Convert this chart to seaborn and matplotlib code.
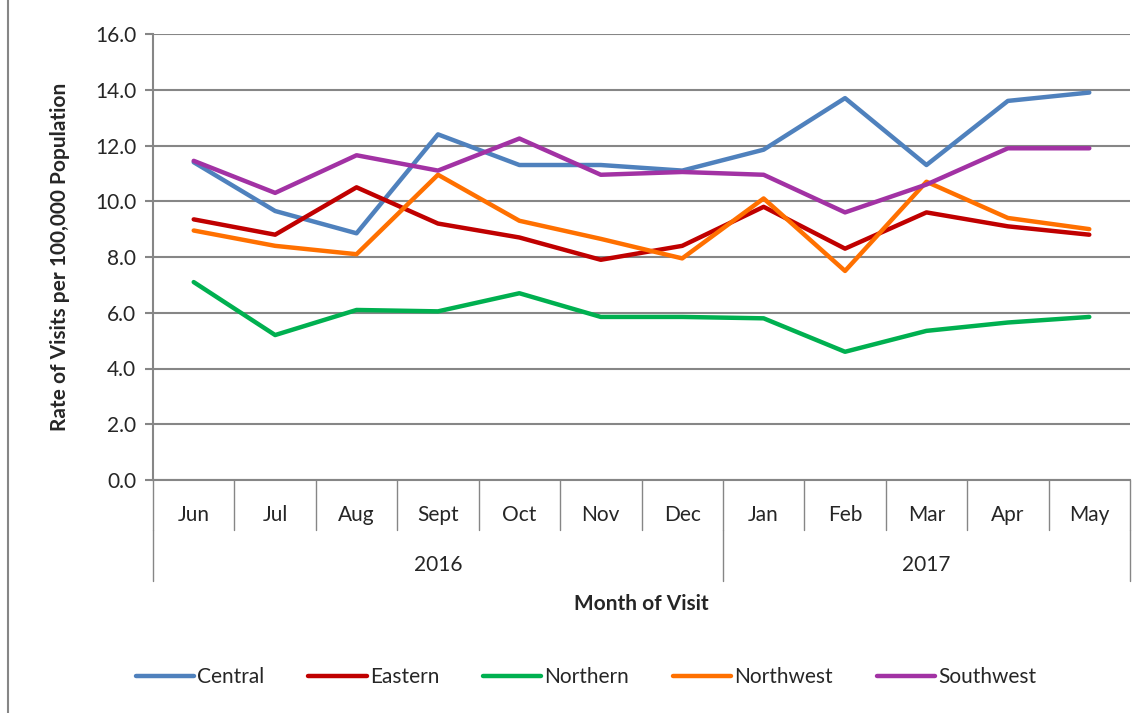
import pandas as pd
import matplotlib.pyplot as plt
import matplotlib.transforms as mtransforms
import seaborn as sns

months = ["Jun", "Jul", "Aug", "Sept", "Oct", "Nov", "Dec",
          "Jan", "Feb", "Mar", "Apr", "May"]
years = ["2016", "2017"]
year_sizes = [7, 5]

central = [11.4, 9.65, 8.85, 12.4, 11.3, 11.3, 11.1, 11.85, 13.7, 11.3, 13.6, 13.9]
eastern = [9.35, 8.8, 10.5, 9.2, 8.7, 7.9, 8.4, 9.8, 8.3, 9.6, 9.1, 8.8]
northern = [7.1, 5.2, 6.1, 6.05, 6.7, 5.85, 5.85, 5.8, 4.6, 5.35, 5.65, 5.85]
northwest = [8.95, 8.4, 8.1, 10.95, 9.3, 8.65, 7.95, 10.1, 7.5, 10.7, 9.4, 9.0]
southwest = [11.45, 10.3, 11.65, 11.1, 12.25, 10.95, 11.05, 10.95, 9.6, 10.6, 11.9, 11.9]

regions = ["Central", "Eastern", "Northern", "Northwest", "Southwest"]
colors = ["#4F81BD", "#C00000", "#00B050", "#FF7000", "#A232A4"]

rows = []
for name, vals in zip(regions, [central, eastern, northern, northwest, southwest]):
    for i, v in enumerate(vals):
        rows.append({"pos": i, "Region": name, "Rate": v})
df = pd.DataFrame(rows)

sns.set_style("white")
plt.rcParams["font.family"] = ["Lato", "DejaVu Sans"]

fig = plt.figure(figsize=(11.47, 7.13), dpi=100)
ax = fig.add_axes([153 / 1147, 1 - 480 / 713, (1130 - 153) / 1147, (480 - 34) / 713])

sns.lineplot(data=df, x="pos", y="Rate", hue="Region", hue_order=regions,
             palette=colors, linewidth=3.2, ax=ax, legend=False, sort=False)

ax.set_xlim(-0.5, len(months) - 0.5)
ax.set_ylim(0, 16)
ax.set_yticks([i * 2 for i in range(9)])
ax.set_yticklabels(["%.1f" % (i * 2) for i in range(9)], fontsize=15)
ax.yaxis.grid(True, color="#868686", linewidth=1.5)
ax.set_axisbelow(True)
ax.tick_params(axis="y", left=True, length=6, width=1.5, color="#868686", pad=6)
ax.set_ylabel("")

for s in ["top", "right"]:
    ax.spines[s].set_visible(False)
ax.spines["left"].set_color("#868686")
ax.spines["left"].set_linewidth(1.5)
ax.spines["bottom"].set_color("#868686")
ax.spines["bottom"].set_linewidth(1.5)

# multi-level category axis
ax.set_xticks([])
ax.set_xlabel("")
trans = mtransforms.blended_transform_factory(ax.transData, ax.transAxes)
px = 1 / 446
for k in range(len(months) + 1):
    ax.plot([k - 0.5, k - 0.5], [0, -50 * px], transform=trans, color="#868686",
            linewidth=1.0, clip_on=False)
for i, m in enumerate(months):
    ax.text(i, -35 * px, m, transform=trans, ha="center", va="center", fontsize=15)
start = 0
for y, n in zip(years, year_sizes):
    ax.plot([start - 0.5, start - 0.5], [-50 * px, -101 * px], transform=trans,
            color="#868686", linewidth=1.0, clip_on=False)
    ax.text(start + (n - 1) / 2, -85 * px, y, transform=trans, ha="center",
            va="center", fontsize=15)
    start += n
ax.plot([start - 0.5, start - 0.5], [-50 * px, -101 * px], transform=trans,
        color="#868686", linewidth=1.0, clip_on=False)

fig.text((153 + 1130) / 2 / 1147, 1 - 604 / 713, "Month of Visit", ha="center",
         va="center", fontsize=15, fontweight="bold")
fig.text(60 / 1147, 1 - 257 / 713, "Rate of Visits per 100,000 Population",
         ha="center", va="center", rotation=90, fontsize=15, fontweight="bold")

handles = [plt.Line2D([], [], color=c, linewidth=3.2) for c in colors]
fig.legend(handles, regions, loc="center", bbox_to_anchor=(586 / 1147, 1 - 677 / 713),
           ncol=5, frameon=False, fontsize=15, handlelength=2.8, handletextpad=0.15,
           columnspacing=2.1)

# chart border
fig.add_artist(plt.Rectangle((8 / 1147, -0.01), 1, 1.02, transform=fig.transFigure,
                             fill=False, edgecolor="#868686", linewidth=1.5))

fig.savefig("out.png", dpi=100)
